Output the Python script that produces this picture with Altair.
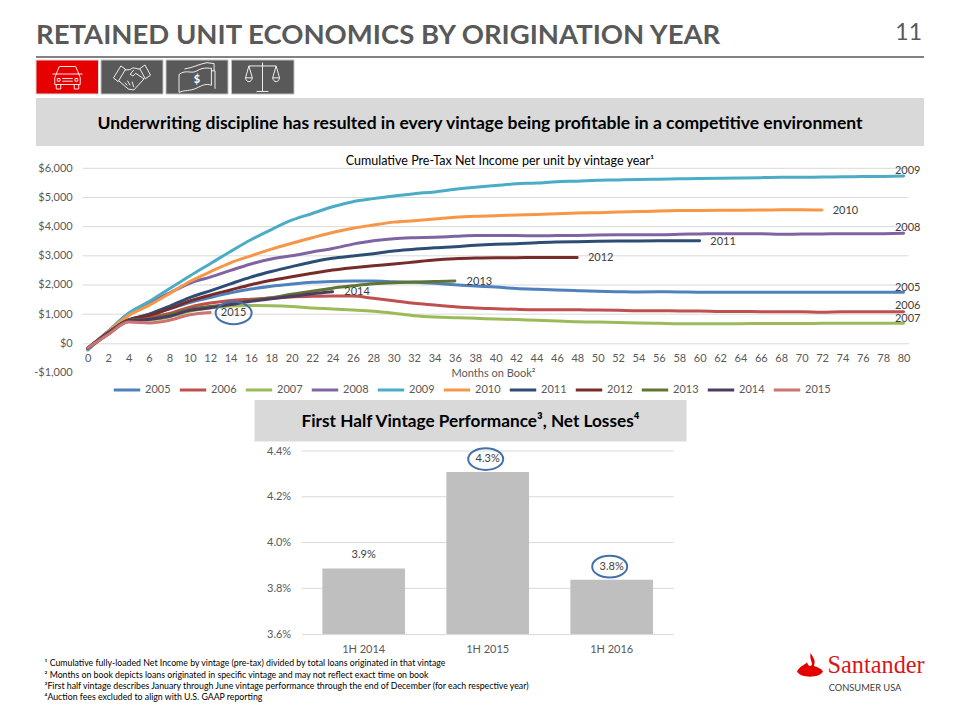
import altair as alt
import pandas as pd

FONT = "Lato"
GREY = "#595959"
GRID = "#D9D9D9"

# ---------- chart data ----------
months = list(range(0, 82, 2))
s2005 = [-170,370,780,950,1180,1400,1570,1730,1860,1960,2030,2090,2120,2135,2140,2110,2090,2056,2010,1965,1930,1880,1850,1827,1805,1783,1770,1760,1765,1760,1750,1750,1750,1750,1750,1750,1750,1750,1750,1750,1748]
s2006 = [-170,320,780,900,1020,1240,1380,1470,1510,1550,1590,1610,1620,1620,1542,1460,1370,1313,1255,1210,1186,1165,1152,1152,1150,1140,1130,1120,1120,1110,1110,1095,1095,1085,1085,1085,1062,1085,1085,1085,1083]
s2007 = [-180,320,780,800,900,1100,1210,1280,1300,1290,1260,1210,1180,1142,1097,1028,947,901,878,857,833,815,788,765,740,730,718,696,685,673,673,673,673,680,680,680,685,690,690,690,685]
s2008 = [-180,420,1020,1380,1720,2060,2270,2500,2720,2890,3000,3130,3250,3400,3517,3587,3620,3640,3667,3695,3695,3695,3685,3695,3700,3710,3720,3725,3725,3735,3750,3755,3755,3755,3740,3745,3750,3755,3755,3760,3775]
s2009 = [-230,400,1030,1430,1870,2310,2730,3150,3550,3900,4220,4450,4680,4855,4960,5050,5130,5190,5278,5350,5410,5470,5495,5540,5560,5590,5600,5615,5625,5640,5650,5660,5670,5680,5690,5695,5700,5710,5715,5720,5735]
s2010 = [-190,400,950,1300,1700,2120,2450,2760,3000,3230,3430,3620,3800,3945,4055,4155,4205,4260,4320,4355,4375,4400,4420,4440,4465,4480,4500,4515,4535,4550,4555,4560,4565,4570,4575,4580,4570]
s2011 = [-170,370,800,1000,1270,1570,1800,2040,2270,2460,2630,2790,2914,2993,3072,3164,3222,3278,3313,3360,3393,3415,3450,3470,3483,3495,3505,3510,3515,3515,3520]
s2012 = [-170,360,800,960,1180,1450,1650,1830,2010,2160,2280,2400,2513,2593,2660,2718,2787,2856,2900,2924,2935,2935,2945,2945,2940]
s2013 = [-170,340,790,840,980,1170,1260,1350,1470,1560,1680,1790,1890,1970,2040,2080,2100,2120,2135]
s2014 = [-170,330,780,820,930,1130,1220,1330,1440,1530,1610,1700,1770]
s2015 = [-160,300,730,700,790,980,1060]
series = {"2005":s2005,"2006":s2006,"2007":s2007,"2008":s2008,"2009":s2009,"2010":s2010,
          "2011":s2011,"2012":s2012,"2013":s2013,"2014":s2014,"2015":s2015}
years = list(series)
line_colors = ["#4F81BD","#C0504D","#9BBB59","#8064A2","#4BACC6","#F79646","#2C4D75","#772C2A","#5F7530","#4D3B62","#CD7371"]
usd_ticks = [-1000,0,1000,2000,3000,4000,5000,6000]
month_ticks = list(range(0, 82, 2))

label_years = ["2015","2014","2013","2012","2011","2010","2009","2008","2005","2006","2007"]
label_months = [14.3,26.4,38.4,50.3,62.3,74.3,80.4,80.4,80.4,80.4,80.4]
label_values = [1040,1759,2100,2913,3484,4545,5905,3963,1896,1279,833]

half_years = ["1H 2014","1H 2015","1H 2016"]
net_losses = [0.03887,0.04308,0.03838]
pct_ticks = [0.036,0.038,0.040,0.042,0.044]
circled = ["1H 2015","1H 2016"]

footnotes = ["¹ Cumulative fully-loaded Net Income by vintage (pre-tax) divided by total loans originated in that vintage",
             "² Months on book depicts loans originated in specific vintage and may not reflect exact time on book",
             "³First half vintage describes January through June vintage performance through the end of December (for each respective year)",
             "⁴Auction fees excluded to align with U.S. GAAP reporting"]

# ---------- helpers (page px -> chart px) ----------
def P(v):
    return v - 8

ONE = alt.Data(values=[{}])
W, H = 944, 704
LABEL = 11

def box(x0, x1, y0, y1, color, stroke=None):
    kw = {"stroke": stroke, "strokeWidth": 1} if stroke else {}
    return alt.Chart(ONE).mark_rect(color=color, **kw).encode(
        x=alt.value(P(x0)), x2=alt.value(P(x1)), y=alt.value(P(y0)), y2=alt.value(P(y1)))

def txt(s, x, y, size, color="black", bold=False, align="left", font=FONT):
    return alt.Chart(ONE).mark_text(font=font, fontSize=size, color=color,
                                    fontWeight="bold" if bold else "normal",
                                    align=align, baseline="middle").encode(
        x=alt.value(P(x)), y=alt.value(P(y)), text=alt.value(s))

def glyph(path, x, y, width, stroke="white", fill=None, sw=0.9):
    kw = {"filled": True, "color": fill} if fill else {"filled": False, "stroke": stroke, "strokeWidth": sw}
    return alt.Chart(ONE).mark_point(shape=path, size=width * width, opacity=1, **kw).encode(
        x=alt.value(P(x)), y=alt.value(P(y)))

CAR = ("M-1,-0.2 L-0.75,-0.2 L-0.55,-0.7 L0.55,-0.7 L0.75,-0.2 L1,-0.2 M-0.75,-0.2 L0.75,-0.2 L0.85,0.05 L0.85,0.5 L-0.85,0.5 L-0.85,0.05 Z "
       "M-0.75,0.5 L-0.75,0.8 L-0.45,0.8 L-0.45,0.5 M0.75,0.5 L0.75,0.8 L0.45,0.8 L0.45,0.5 "
       "M-0.35,0.1 L0.35,0.1 M-0.35,0.28 L0.35,0.28 M-0.68,0.1 L-0.5,0.1 L-0.5,0.28 L-0.68,0.28 Z M0.68,0.1 L0.5,0.1 L0.5,0.28 L0.68,0.28 Z")
HANDS = ("M-1,0.05 L-0.6,-0.6 L-0.35,-0.42 L-0.75,0.25 Z M1,-0.1 L0.7,-0.65 L0.42,-0.45 L0.72,0.1 Z "
         "M-0.4,-0.38 L-0.1,-0.4 L0.05,-0.5 L0.42,-0.42 M-0.7,0.22 L-0.2,0.65 L0.1,0.7 L0.65,0.1 "
         "M-0.1,-0.15 L0.1,-0.38 M-0.1,-0.15 L0.05,-0.05 L0.2,-0.2 L0.65,0.1 M-0.4,0.3 L-0.25,0.45 M-0.25,0.2 L-0.1,0.45 M0,0.25 L0.1,0.55")
BILL = ("M-1,-0.2 C-0.6,-0.5 -0.3,-0.2 0,-0.4 C0.4,-0.65 0.7,-0.5 0.8,-0.55 L0.8,0.4 C0.5,0.3 0.3,0.4 0,0.55 C-0.4,0.75 -0.7,0.65 -1,0.8 Z "
        "M0.8,-0.4 L1,-0.4 L1,0.6 M-0.7,-0.5 C-0.3,-0.55 0.2,-0.8 0.55,-0.85 L0.95,-0.8 L0.95,-0.4")
SCALES = ("M0,-0.85 L0,0.85 M-0.35,0.85 L0.35,0.85 M-0.8,-0.65 L0.8,-0.65 "
          "M-0.8,-0.65 L-1,0.05 L-0.6,0.05 Z M-1,0.05 C-0.95,0.35 -0.65,0.35 -0.6,0.05 "
          "M0.8,-0.65 L0.6,0.05 L1,0.05 Z M0.6,0.05 C0.65,0.35 0.95,0.35 1,0.05")
FLAME = ("M-1,0.42 C-0.75,0.02 -0.42,-0.08 -0.22,-0.28 C-0.18,0 0.05,0.1 0.14,-0.1 C0.2,-0.3 -0.05,-0.5 0.04,-1 "
         "C0.25,-0.65 0.42,-0.45 0.34,-0.15 C0.32,-0.08 0.3,-0.02 0.32,0 C0.6,0.1 0.88,0.2 1,0.42 C0.7,0.95 -0.7,0.95 -1,0.42 Z")
RING = "M-1,0 A1,0.62 0 1,1 1,0 A1,0.62 0 1,1 -1,0 Z"

# ---------- page furniture ----------
furn = [
    txt("RETAINED UNIT ECONOMICS BY ORIGINATION YEAR", 36, 36, 27.5, GREY, True),
    txt("11", 922, 33, 23, GREY, False, "right"),
    alt.Chart(ONE).mark_rule(color=GREY, strokeWidth=1.5).encode(
        x=alt.value(P(36)), x2=alt.value(P(924)), y=alt.value(P(57))),
    box(36, 98.5, 60, 94, "#E60000", "#D9D9D9"),
    box(101, 163, 60, 94, GREY, "#BFBFBF"),
    box(166, 228, 60, 94, GREY, "#BFBFBF"),
    box(231.5, 294, 60, 94, GREY, "#BFBFBF"),
    glyph(CAR, 67.5, 77, 30),
    glyph(HANDS, 132, 77, 37),
    glyph(BILL, 197, 78, 36),
    txt("$", 197, 80, 11, "white", True, "center"),
    glyph(SCALES, 262.5, 77, 34),
    box(36, 924, 98, 146, GRID),
    txt("Underwriting discipline has resulted in every vintage being profitable in a competitive environment",
        480, 123.5, 17.5, "black", True, "center"),
    txt("Cumulative Pre-Tax Net Income per unit by vintage year¹", 500, 161, 12.5, "black", False, "center"),
    box(254.5, 686.5, 400, 441.5, GRID),
    txt("First Half Vintage Performance³, Net Losses⁴", 470.5, 422, 17.2, "black", True, "center"),
    glyph(FLAME, 810, 666, 26, fill="#E60000"),
    txt("Santander", 827.5, 666, 24.3, "#D9161C", False, "left", "Liberation Serif"),
    txt("CONSUMER USA", 865, 688, 9.3, "#404040", False, "center"),
]
for i, f in enumerate(footnotes):
    furn.append(txt(f, 44.5, [663, 674.5, 686, 697][i], 8.75, "black"))
furniture = alt.layer(*furn)

# ---------- top chart ----------
rows = [{"Month": m, "Income": v, "Year": y}
        for y in years for m, v in zip(months, series[y])]
lines_df = pd.DataFrame(rows)
ticks_df = pd.DataFrame({"v": usd_ticks})
labels_df = pd.DataFrame({"Year": label_years, "m": label_months, "v": label_values})

x_top = alt.Scale(domain=[-0.5, 80.5], range=[P(82.7), P(908.7)], nice=False)
y_top = alt.Scale(domain=[-1000, 6000], range=[P(372.5), P(168.3)], nice=False, zero=False)

y_top_axis = alt.Axis(orient="left", values=usd_ticks, grid=False, domain=False, ticks=False, title=None,
                      labelExpr="replace(format(datum.value,'$,.0f'),'\u2212','-')",
                      labelFont=FONT, labelFontSize=LABEL, labelColor=GREY, labelPadding=10.5,
                      offset=-P(82.7))
x_top_axis = alt.Axis(orient="bottom", values=month_ticks, grid=False, ticks=False, domainColor=GRID, domainWidth=1,
                      labelFont=FONT, labelFontSize=LABEL, labelColor=GREY, labelPadding=9,
                      labelOverlap=False, labelFlush=False, format="d",
                      offset=-(H - P(343.3)),
                      title="Months on Book²", titleFont=FONT, titleFontSize=LABEL, titleColor=GREY,
                      titleFontWeight="normal", titleX=P(493), titleY=30, titleAlign="center", titleBaseline="middle")

grid_top = alt.Chart(ticks_df[ticks_df.v > 0]).mark_rule(color=GRID, strokeWidth=1).encode(
    x=alt.value(P(82.7)), x2=alt.value(P(908.7)),
    y=alt.Y("v:Q", scale=y_top, axis=y_top_axis))

lines = alt.Chart(lines_df).mark_line(strokeWidth=3, strokeCap="round", strokeJoin="round", interpolate="monotone").encode(
    x=alt.X("Month:Q", scale=x_top, axis=x_top_axis),
    y=alt.Y("Income:Q", scale=y_top, axis=y_top_axis),
    color=alt.Color("Year:N", sort=years, scale=alt.Scale(domain=years, range=line_colors),
                    legend=alt.Legend(title=None, orient="none", legendX=P(112), legendY=P(375), columns=11,
                                      symbolType="stroke", symbolSize=700, symbolStrokeWidth=3,
                                      labelFont=FONT, labelFontSize=LABEL, labelColor=GREY, labelOffset=3,
                                      columnPadding=2, padding=0, rowPadding=0)),
    order=alt.Order("Month:Q"),
)

line_labels = alt.Chart(labels_df).mark_text(font=FONT, fontSize=LABEL, color="#404040", align="center", baseline="middle").encode(
    x=alt.X("m:Q", scale=x_top, axis=x_top_axis), y=alt.Y("v:Q", scale=y_top, axis=y_top_axis), text="Year:N")

ring_top = alt.Chart(labels_df[labels_df.Year == "2015"]).mark_point(
    shape=RING, size=36 * 36, filled=False, stroke="#4472A8", strokeWidth=2, opacity=1).encode(
    x=alt.X("m:Q", scale=x_top, axis=x_top_axis), y=alt.Y("v:Q", scale=y_top, axis=y_top_axis))

top = alt.layer(grid_top, lines, line_labels, ring_top)

# ---------- bottom chart ----------
bars_df = pd.DataFrame({"Half": half_years, "Loss": net_losses, "Base": [pct_ticks[0]] * 3})
pct_df = pd.DataFrame({"v": pct_ticks})
x_bot = alt.Scale(domain=half_years, range=[P(301.7), P(673.7)], paddingInner=1/3, paddingOuter=1/6)
y_bot = alt.Scale(domain=[0.036, 0.044], range=[P(634.1), P(451)], nice=False, zero=False)

y_bot_axis = alt.Axis(orient="left", values=pct_ticks, format=".1%", grid=False, domain=False, ticks=False, title=None,
                      labelFont=FONT, labelFontSize=LABEL, labelColor=GREY, labelPadding=11,
                      offset=-P(301.7))
x_bot_axis = alt.Axis(orient="bottom", grid=False, ticks=False, domainColor=GRID, labelAngle=0, title=None,
                      labelFont=FONT, labelFontSize=LABEL, labelColor=GREY, labelPadding=9,
                      offset=-(H - P(634.1)))

grid_bot = alt.Chart(pct_df[pct_df.v > 0.036]).mark_rule(color=GRID, strokeWidth=1).encode(
    x=alt.value(P(301.7)), x2=alt.value(P(673.7)),
    y=alt.Y("v:Q", scale=y_bot, axis=y_bot_axis))

bars = alt.Chart(bars_df).mark_bar(color="#BFBFBF").encode(
    x=alt.X("Half:N", scale=x_bot, sort=half_years, axis=x_bot_axis),
    y=alt.Y("Loss:Q", scale=y_bot, axis=y_bot_axis),
    y2=alt.Y2("Base:Q"),
)
bar_text = alt.Chart(bars_df).mark_text(font=FONT, fontSize=LABEL, color="#404040", dy=-13, baseline="middle").encode(
    x=alt.X("Half:N", scale=x_bot, sort=half_years, axis=x_bot_axis), y=alt.Y("Loss:Q", scale=y_bot, axis=y_bot_axis),
    text=alt.Text("Loss:Q", format=".1%"))
bar_rings = alt.Chart(bars_df[bars_df.Half.isin(circled)]).mark_point(
    shape=RING, size=35 * 35, filled=False, stroke="#4472A8", strokeWidth=2, opacity=1, xOffset=-2, yOffset=-13).encode(
    x=alt.X("Half:N", scale=x_bot, sort=half_years, axis=x_bot_axis), y=alt.Y("Loss:Q", scale=y_bot, axis=y_bot_axis))

bottom = alt.layer(grid_bot, bars, bar_text, bar_rings)

chart = alt.layer(furniture, top, bottom).resolve_scale(x="independent", y="independent", color="independent").properties(
    width=W, height=H, padding=0, autosize=alt.AutoSizeParams(type="none"), background="white"
).configure_view(stroke=None)

chart.save("out.html", embed_options={"renderer": "svg", "actions": False})
